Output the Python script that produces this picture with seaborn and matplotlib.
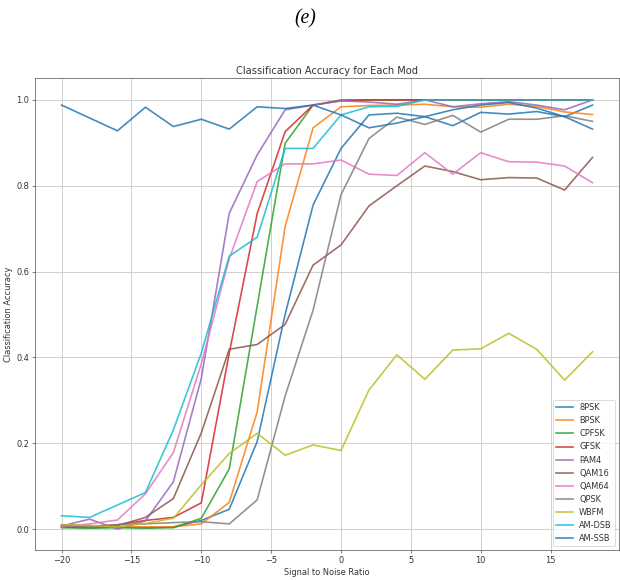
import matplotlib
matplotlib.use("Agg")
import matplotlib.pyplot as plt
import seaborn as sns
import pandas as pd

snr = [-20, -18, -16, -14, -12, -10, -8, -6, -4, -2, 0, 2, 4, 6, 8, 10, 12, 14, 16, 18]

mods = ["8PSK", "BPSK", "CPFSK", "GFSK", "PAM4", "QAM16", "QAM64", "QPSK", "WBFM", "AM-DSB", "AM-SSB"]

acc_8psk = [0.005, 0.003, 0.005, 0.003, 0.005, 0.020, 0.046, 0.204, 0.500, 0.755, 0.887, 0.965, 0.969, 0.961, 0.940, 0.971, 0.967, 0.973, 0.961, 0.988]
acc_bpsk = [0.010, 0.008, 0.005, 0.005, 0.005, 0.012, 0.062, 0.273, 0.705, 0.935, 0.984, 0.987, 0.988, 0.990, 0.984, 0.983, 0.990, 0.985, 0.972, 0.966]
acc_cpfsk = [0.003, 0.002, 0.003, 0.002, 0.003, 0.025, 0.140, 0.520, 0.899, 0.988, 1.000, 1.000, 1.000, 1.000, 1.000, 1.000, 1.000, 1.000, 1.000, 1.000]
acc_gfsk = [0.008, 0.006, 0.010, 0.020, 0.027, 0.061, 0.410, 0.735, 0.926, 0.988, 0.998, 1.000, 1.000, 1.000, 1.000, 1.000, 1.000, 1.000, 1.000, 1.000]
acc_pam4 = [0.007, 0.023, 0.000, 0.019, 0.110, 0.351, 0.736, 0.872, 0.977, 0.988, 0.998, 0.995, 0.990, 1.000, 0.984, 0.991, 0.996, 0.988, 0.977, 1.000]
acc_qam16 = [0.005, 0.005, 0.008, 0.027, 0.071, 0.224, 0.419, 0.430, 0.477, 0.615, 0.662, 0.753, 0.800, 0.846, 0.833, 0.814, 0.819, 0.818, 0.790, 0.866]
acc_qam64 = [0.005, 0.012, 0.021, 0.082, 0.178, 0.385, 0.630, 0.810, 0.851, 0.851, 0.860, 0.827, 0.824, 0.877, 0.827, 0.877, 0.856, 0.855, 0.846, 0.807]
acc_qpsk = [0.008, 0.005, 0.010, 0.012, 0.015, 0.017, 0.012, 0.068, 0.310, 0.510, 0.779, 0.910, 0.960, 0.943, 0.964, 0.925, 0.955, 0.955, 0.963, 0.950]
acc_wbfm = [0.010, 0.008, 0.005, 0.013, 0.025, 0.103, 0.176, 0.223, 0.172, 0.196, 0.183, 0.324, 0.406, 0.349, 0.417, 0.420, 0.456, 0.419, 0.347, 0.413]
acc_amdsb = [0.031, 0.027, 0.056, 0.085, 0.231, 0.410, 0.636, 0.680, 0.887, 0.887, 0.965, 0.984, 0.985, 1.000, 1.000, 1.000, 1.000, 1.000, 1.000, 1.000]
acc_amssb = [0.988, 0.958, 0.928, 0.983, 0.938, 0.955, 0.932, 0.984, 0.980, 0.988, 0.965, 0.935, 0.946, 0.961, 0.977, 0.988, 0.994, 0.981, 0.961, 0.932]

series = [acc_8psk, acc_bpsk, acc_cpfsk, acc_gfsk, acc_pam4, acc_qam16,
          acc_qam64, acc_qpsk, acc_wbfm, acc_amdsb, acc_amssb]

colors = ["tab:blue", "tab:orange", "tab:green", "tab:red", "tab:purple", "tab:brown",
          "tab:pink", "tab:gray", "tab:olive", "tab:cyan", "tab:blue"]

DPI = 59
fig = plt.figure(figsize=(620 / DPI, 580 / DPI), dpi=DPI)
ax = fig.add_axes([0.0565, 0.0509, 0.942, 0.8138])

for name, vals, c in zip(mods, series, colors):
    df = pd.DataFrame({"snr": snr, "acc": vals})
    sns.lineplot(data=df, x="snr", y="acc", color=c, label=name, ax=ax,
                 linewidth=2.0, alpha=0.85)

ax.set_title("Classification Accuracy for Each Mod", color="#333333")
ax.set_xlabel("Signal to Noise Ratio", color="#333333")
ax.set_ylabel("Classification Accuracy", color="#333333")
ax.tick_params(colors="#444444", labelcolor="#333333")
for s in ax.spines.values():
    s.set_color("#444444")
ax.grid(True, color="#c8c8c8", linewidth=1.0)
leg = ax.legend(loc="lower right")
for t in leg.get_texts():
    t.set_color("#333333")

fig.text(0.493, 0.968, "(e)", ha="center", va="center",
         fontfamily="Liberation Serif", fontstyle="italic", fontsize=24)

fig.savefig("out.png", dpi=DPI)
